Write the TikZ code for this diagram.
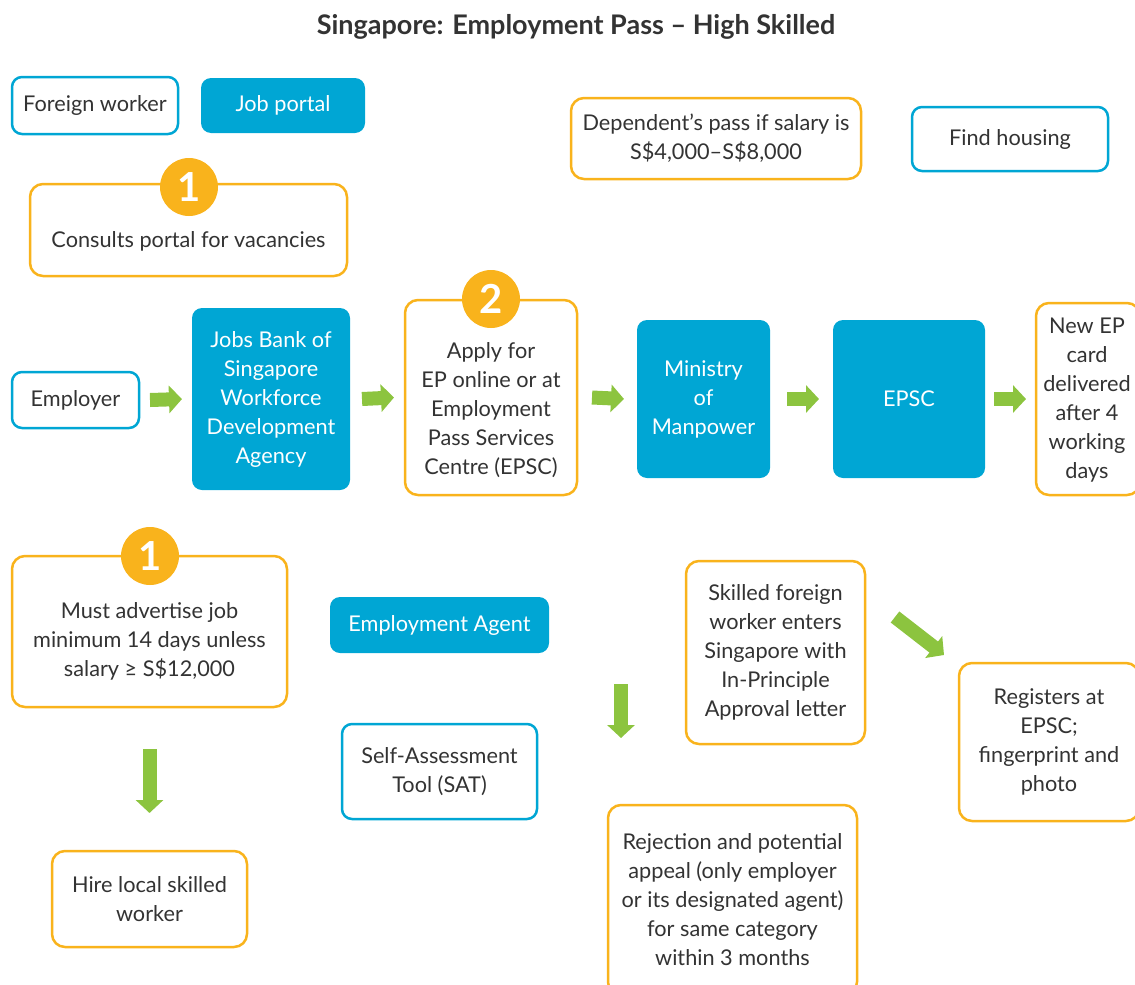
\documentclass[tikz,border=0pt]{standalone}
\usepackage{fontspec}
\setmainfont{Lato}
\newcommand*{\boxfont}{\fontsize{21.7}{29}\selectfont}
\newcommand*{\titlefont}{\fontsize{27}{30}\selectfont\bfseries}
\definecolor{sgblue}{HTML}{00A6D4}
\definecolor{sgorange}{HTML}{F9B31C}
\definecolor{sggreen}{HTML}{8CC43F}
\definecolor{sgtext}{HTML}{333333}
\usetikzlibrary{arrows.meta}
\tikzstyle{base}=[x=1pt, y=-1pt, inner sep=0pt, outer sep=0pt]
\tikzstyle{bluebox}=[draw=sgblue, line width=2.5pt, rounded corners=10pt, fill=white, text=sgtext, align=center, font=\boxfont]
\tikzstyle{filledbox}=[fill=sgblue, rounded corners=10pt, text=white, align=center, font=\boxfont]
\tikzstyle{orangebox}=[draw=sgorange, line width=2.5pt, rounded corners=13pt, fill=white, text=sgtext, align=center, font=\boxfont]
\tikzstyle{boxtext}=[text=sgtext, align=center, font=\boxfont]
\tikzstyle{badge}=[circle, fill=sgorange, minimum size=58pt, text=white, font=\fontsize{40}{40}\selectfont\bfseries]
\tikzstyle{greenarrow}=[draw=sggreen, line width=14pt, -{Triangle[length=13pt,width=27pt]}]

\begin{document}
\begin{tikzpicture}[base]
    \path [use as bounding box] (0,0) rectangle (1135,985);
    \node [text=sgtext, font=\titlefont] (title) at (576,27) {Singapore: Employment Pass -- High Skilled};

    % foreign worker side
    \node [bluebox, minimum width=166pt, minimum height=57pt] (foreign) at (95,105.5) {Foreign worker};
    \node [filledbox, minimum width=164pt, minimum height=55pt] (portal) at (283,105.5) {Job portal};
    \node [orangebox, minimum width=317pt, minimum height=92pt] (consults) at (188.5,230) {};
    \node [boxtext] (consultstext) at (188.5,241) {Consults portal for vacancies};
    \node [badge] (badgea) at (189,187) {1};

    \node [orangebox, minimum width=290pt, minimum height=81pt] (dependent) at (716,138.5) {Dependent's pass if salary is\\S\$4,000--S\$8,000};
    \node [bluebox, minimum width=196pt, minimum height=64pt] (housing) at (1010,139) {Find housing};

    % main row
    \node [bluebox, minimum width=127pt, minimum height=56pt] (employer) at (75.5,400) {Employer};
    \node [filledbox, minimum width=158pt, minimum height=182pt] (jobsbank) at (271,399) {Jobs Bank of\\Singapore\\Workforce\\Development\\Agency};
    \node [orangebox, minimum width=172pt, minimum height=195pt] (apply) at (491,397.5) {};
    \node [boxtext] (applytext) at (491,410.5) {Apply for\\EP online or at\\Employment\\Pass Services\\Centre (EPSC)};
    \node [badge] (badgeb) at (491,299) {2};
    \node [filledbox, minimum width=133pt, minimum height=158pt] (ministry) at (703.5,399) {Ministry\\of\\Manpower};
    \node [filledbox, minimum width=152pt, minimum height=158pt] (epsc) at (909,399) {EPSC};
    \node [orangebox, minimum width=104pt, minimum height=192pt] (newep) at (1088,399) {};
    \node [boxtext] (neweptext) at (1087,400) {New EP\\card\\delivered\\after 4\\working\\days};

    \draw [greenarrow] ([xshift=11pt]employer.east) -- ([xshift=-10pt]jobsbank.west);
    \draw [greenarrow] ([xshift=12pt]jobsbank.east) -- ([xshift=-11pt]apply.west);
    \draw [greenarrow] ([xshift=15pt]apply.east) -- ([xshift=-13pt]ministry.west);
    \draw [greenarrow] ([xshift=17pt]ministry.east) -- ([xshift=-14pt]epsc.west);
    \draw [greenarrow] ([xshift=9pt]epsc.east) -- ([xshift=-10pt]newep.west);

    % lower part
    \node [orangebox, minimum width=275pt, minimum height=151pt] (advertise) at (149.5,631.5) {};
    \node [boxtext] (advertisetext) at (149.5,641) {Must advertise job\\minimum 14 days unless\\salary ≥ S\$12,000};
    \node [badge] (badgec) at (150,556) {1};
    \node [orangebox, minimum width=195pt, minimum height=96pt] (hire) at (149.5,899) {Hire local skilled\\worker};
    \draw [greenarrow] ([yshift=-42pt]advertise.south) -- ([yshift=38pt]hire.north);

    \node [filledbox, minimum width=219pt, minimum height=56pt] (agent) at (439.5,625) {Employment Agent};
    \node [bluebox, minimum width=195pt, minimum height=95pt] (sat) at (439.5,771.5) {Self-Assessment\\Tool (SAT)};

    \node [orangebox, minimum width=179pt, minimum height=183pt] (skilled) at (775.5,652.5) {Skilled foreign\\worker enters\\Singapore with\\In-Principle\\Approval letter};
    \node [orangebox, minimum width=180pt, minimum height=158pt] (registers) at (1049,742) {Registers at\\EPSC;\\fingerprint and\\photo};
    \node [orangebox, minimum width=249pt, minimum height=190pt] (rejection) at (732.5,900) {Rejection and potential\\appeal (only employer\\or its designated agent)\\for same category\\within 3 months};

    \coordinate (refusal) at (621,684);
    \draw [greenarrow] (refusal) -- ([yshift=67pt]refusal |- rejection.north);
    \coordinate (entry) at (895,617);
    \coordinate (register) at (944,655);
    \draw [greenarrow] (entry) -- (register);
\end{tikzpicture}
\end{document}
